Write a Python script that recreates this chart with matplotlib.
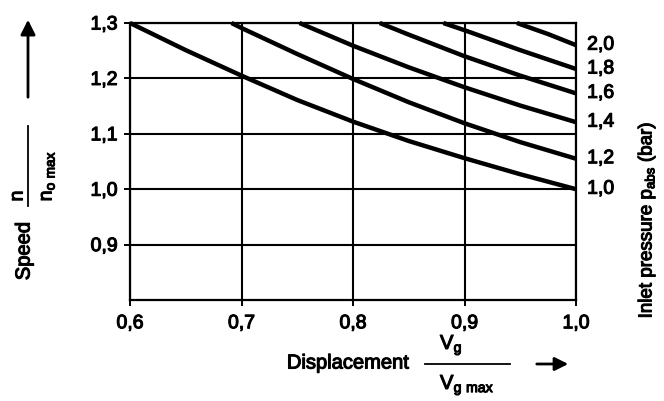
import matplotlib.pyplot as plt
import matplotlib.patheffects as pe
from matplotlib.lines import Line2D

plt.rcParams['font.family'] = ['Liberation Sans', 'DejaVu Sans']
plt.rcParams['mathtext.default'] = 'regular'
bold_ink = [pe.withStroke(linewidth=0.8, foreground='black')]  # scanned print looks heavier

# curve data (displacement -> speed), per inlet pressure
p_labels = ['1,0', '1,2', '1,4', '1,6', '1,8', '2,0']

x_10 = [0.60, 0.65, 0.70, 0.75, 0.80, 0.85, 0.90, 0.95, 1.00]
y_10 = [1.300, 1.251, 1.205, 1.161, 1.122, 1.087, 1.056, 1.027, 1.000]

x_12 = [0.691, 0.70, 0.75, 0.80, 0.85, 0.90, 0.95, 1.00]
y_12 = [1.300, 1.291, 1.244, 1.199, 1.157, 1.119, 1.085, 1.055]

x_14 = [0.752, 0.80, 0.85, 0.90, 0.95, 1.00]
y_14 = [1.300, 1.259, 1.220, 1.184, 1.151, 1.121]

x_16 = [0.824, 0.85, 0.90, 0.95, 1.00]
y_16 = [1.300, 1.279, 1.240, 1.205, 1.173]

x_18 = [0.881, 0.90, 0.95, 1.00]
y_18 = [1.300, 1.287, 1.251, 1.217]

x_20 = [0.947, 0.975, 1.00]
y_20 = [1.300, 1.280, 1.260]

curves = [(x_10, y_10), (x_12, y_12), (x_14, y_14), (x_16, y_16), (x_18, y_18), (x_20, y_20)]

x_ticks = [0.6, 0.7, 0.8, 0.9, 1.0]
x_ticklabels = ['0,6', '0,7', '0,8', '0,9', '1,0']
y_ticks = [0.9, 1.0, 1.1, 1.2, 1.3]
y_ticklabels = ['0,9', '1,0', '1,1', '1,2', '1,3']

#------------ Graph ------------
fig = plt.figure(figsize=(6.64, 4.01), dpi=100)
ax = fig.add_axes([130/664, 1 - 300/401, 446/664, 277/401])

ax.set_xlim(0.6, 1.0)
ax.set_ylim(0.8, 1.3)
ax.set_xticks(x_ticks)
ax.set_xticklabels(x_ticklabels)
ax.set_yticks(y_ticks)
ax.set_yticklabels(y_ticklabels)
ax.tick_params(direction='out', length=4, width=1.4, labelsize=14, colors='black')
ax.tick_params(axis='x', pad=7)
ax.tick_params(axis='y', pad=5)
ax.grid(True, color='black', linewidth=1.5)
for s in ax.spines.values():
    s.set_linewidth(1.6)
for t in ax.get_xticklabels() + ax.get_yticklabels():
    t.set_path_effects(bold_ink)

for (xs, ys), lab in zip(curves, p_labels):
    ax.plot(xs, ys, color='black', linewidth=3.2, solid_capstyle='butt', solid_joinstyle='round', clip_on=False)
    ax.annotate(lab, xy=(1.0, ys[-1]), xytext=(8, 0), textcoords='offset points',
                va='center', ha='left', fontsize=14, annotation_clip=False, path_effects=bold_ink)

# y axis label
fig.text(24/664, 1 - 251/401, 'Speed', rotation=90, ha='center', va='center', fontsize=14.5, path_effects=bold_ink)
fig.text(18/664, 1 - 196/401, 'n', rotation=90, ha='center', va='center', fontsize=14, path_effects=bold_ink)
fig.text(48/664, 1 - 176/401, r'$n_{o\ max}$', rotation=90, ha='center', va='center', fontsize=14, path_effects=bold_ink)
fig.add_artist(Line2D([28/664, 28/664], [1 - 206/401, 1 - 126/401], color='black', linewidth=1.3))
ax.annotate('', xy=(28, 401 - 17), xytext=(28, 401 - 100), xycoords='figure pixels',
            arrowprops=dict(arrowstyle='-|>', color='black', lw=2, mutation_scale=22))

# x axis label
fig.text(348/664, 1 - 363/401, 'Displacement', ha='center', va='center', fontsize=14.5, path_effects=bold_ink)
fig.text(440/664, 1 - 345/401, r'$V_g$', ha='left', va='center', fontsize=14.5, path_effects=bold_ink)
fig.text(440/664, 1 - 385/401, r'$V_{g\ max}$', ha='left', va='center', fontsize=14.5, path_effects=bold_ink)
fig.add_artist(Line2D([425/664, 510/664], [1 - 364/401, 1 - 364/401], color='black', linewidth=1.3))
ax.annotate('', xy=(571, 401 - 364), xytext=(534, 401 - 364), xycoords='figure pixels',
            arrowprops=dict(arrowstyle='-|>', color='black', lw=2, mutation_scale=20))

# right label
fig.text(647/664, 1 - 220/401, r'Inlet pressure $p_{abs}$ (bar)', rotation=90,
         ha='center', va='center', fontsize=13.5, path_effects=bold_ink)

fig.savefig('out.png', dpi=100)
